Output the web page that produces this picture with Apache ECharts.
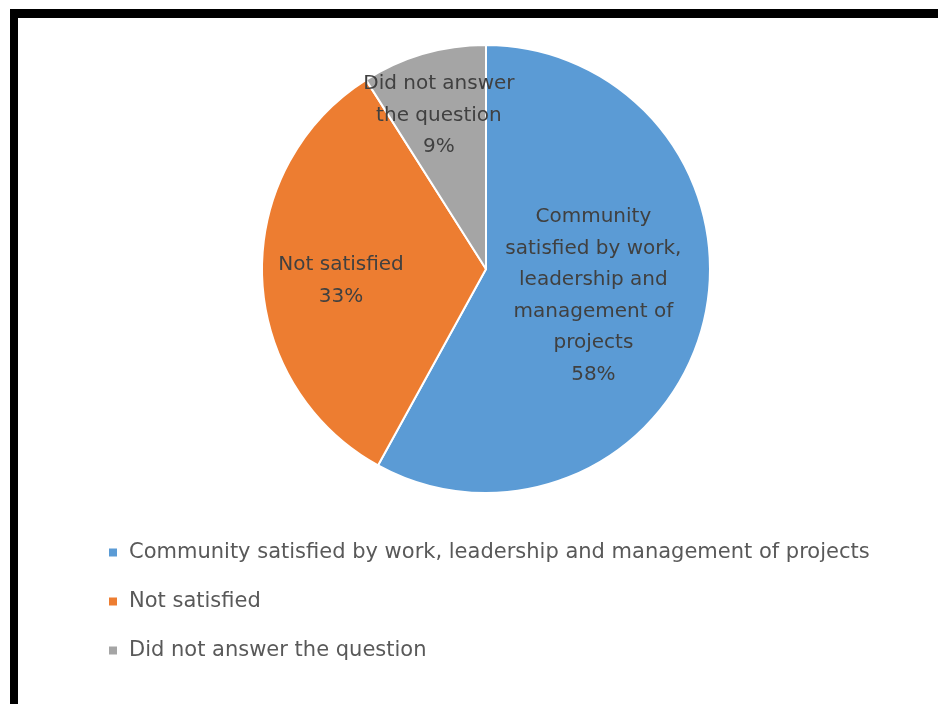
<!DOCTYPE html>
<html>
<head>
<meta charset="utf-8">
<script src="https://cdn.jsdelivr.net/npm/echarts@6/dist/echarts.min.js"></script>
<style>
  html, body { margin: 0; padding: 0; background: #fff; }
  #chart { width: 938px; height: 704px; }
</style>
</head>
<body>
<div id="chart"></div>
<script>
// Survey answers on community satisfaction (percent of respondents)
const categories = [
  'Community satisfied by work, leadership and management of projects',
  'Not satisfied',
  'Did not answer the question'
];
const shares = [58, 33, 9];
// Wrapped text shown inside each slice
const sliceTitles = [
  'Community\nsatisfied by work,\nleadership and\nmanagement of\nprojects',
  'Not satisfied',
  'Did not answer\nthe question'
];

const colors = ['#5B9BD5', '#ED7D31', '#A5A5A5'];
// Pixel nudges for the in-slice labels
const labelOffsets = [[-4, -2], [-30, 8], [-15, -43]];

const chart = echarts.init(document.getElementById('chart'), null, { renderer: 'canvas' });

const pieData = categories.map((name, i) => ({
  name: name,
  value: shares[i],
  itemStyle: { color: colors[i] },
  label: { offset: labelOffsets[i] }
}));

chart.setOption({
  backgroundColor: '#ffffff',
  animation: false,
  legend: {
    orient: 'vertical',
    left: 102,
    top: 537,
    icon: 'rect',
    itemWidth: 10,
    itemHeight: 10,
    itemGap: 28,
    textStyle: {
      fontFamily: 'DejaVu Sans',
      fontSize: 21,
      lineHeight: 21,
      color: '#595959',
      padding: [0, 0, 0, 6]
    },
    data: categories
  },
  series: [{
    type: 'pie',
    center: [486, 269],
    radius: 224,
    startAngle: 90,
    clockwise: true,
    itemStyle: { borderColor: '#ffffff', borderWidth: 2 },
    emphasis: { disabled: true },
    label: {
      show: true,
      position: 'inside',
      fontFamily: 'DejaVu Sans',
      fontSize: 20,
      lineHeight: 31.5,
      color: '#404040',
      align: 'center',
      formatter: p => sliceTitles[p.dataIndex] + '\n' + p.value + '%'
    },
    labelLine: { show: false },
    data: pieData
  }],
  graphic: [
    { type: 'rect', shape: { x: 10, y: 9, width: 928, height: 9 }, style: { fill: '#000' } },
    { type: 'rect', shape: { x: 10, y: 9, width: 8, height: 695 }, style: { fill: '#000' } }
  ]
});
</script>
</body>
</html>
